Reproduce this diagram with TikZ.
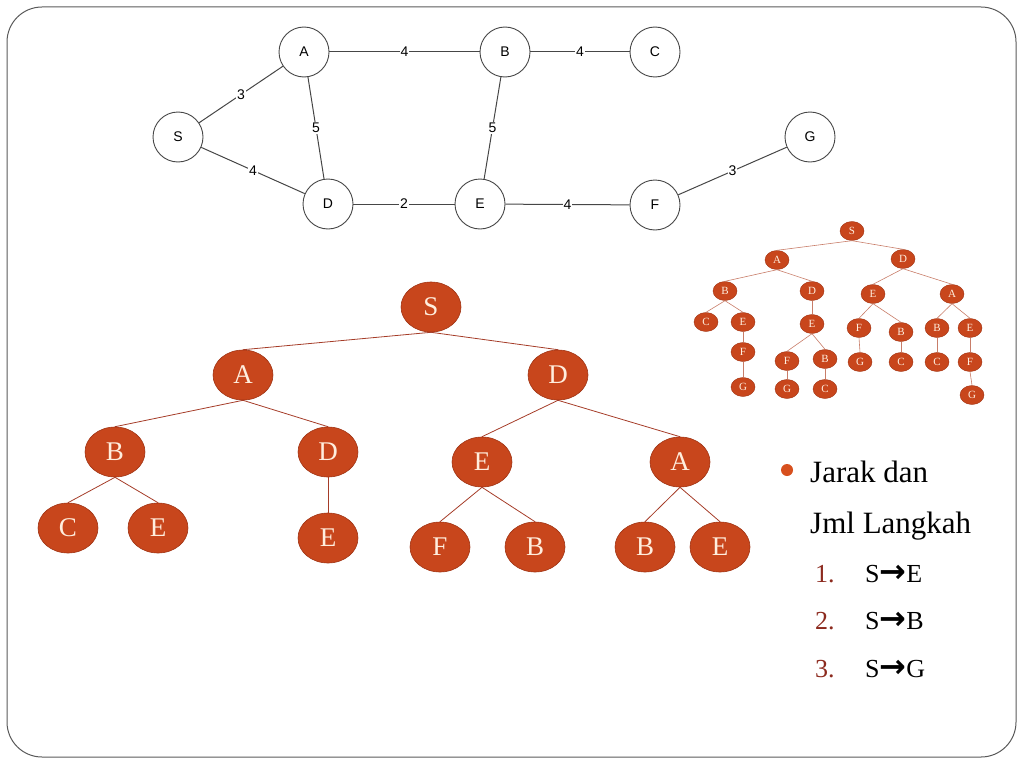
\documentclass[tikz,border=0pt]{standalone}
\usepackage{fontspec}
\setmainfont{Liberation Serif}
\setsansfont{Liberation Sans}
\newfontfamily\arrowfont{DejaVu Sans}
\usetikzlibrary{shapes.geometric}

\definecolor{framegray}{RGB}{90,90,90}
\definecolor{vertexgray}{RGB}{70,70,70}
\definecolor{treefill}{RGB}{200,70,28}
\definecolor{treeborder}{RGB}{160,52,20}
\definecolor{treeline}{RGB}{165,60,40}
\definecolor{smallline}{RGB}{200,125,105}
\definecolor{treetext}{RGB}{255,238,222}
\definecolor{numred}{RGB}{140,42,30}
\definecolor{bulletorange}{RGB}{215,80,30}

\begin{document}
\begin{tikzpicture}[x=1pt,y=-1pt,
	vertex/.style={circle,draw=vertexgray,line width=0.9pt,minimum size=50,inner sep=0,font=\sffamily\fontsize{14}{14}\selectfont},
	weight/.style={fill=white,inner sep=1pt,font=\sffamily\fontsize{14}{14}\selectfont},
	gline/.style={draw=vertexgray,line width=1pt},
	bignode/.style={ellipse,fill=treefill,draw=treeborder,line width=0.6pt,minimum width=60,minimum height=50,inner sep=0,text=treetext,font=\fontsize{27}{27}\selectfont},
	smallnode/.style={ellipse,fill=treefill,draw=treeborder,line width=0.4pt,minimum width=24,minimum height=19,inner sep=0,text=treetext,font=\fontsize{11}{11}\selectfont},
	bigline/.style={draw=treeline,line width=0.8pt},
	smalledge/.style={draw=smallline,line width=0.6pt},
	bullettext/.style={anchor=base west,inner sep=0,font=\fontsize{31}{31}\selectfont},
	steptext/.style={anchor=base west,inner sep=0,font=\fontsize{26}{26}\selectfont}]
		
		\useasboundingbox (0,0) rectangle (1024,768);
		\draw[framegray,line width=1pt,rounded corners=35] (7,7) rectangle (1016,757);
		
		% weighted graph
		\node(1) at (178,137)[vertex]{S};
		\node(2) at (304,52)[vertex]{A};
		\node(3) at (505,52)[vertex]{B};
		\node(4) at (655,52)[vertex]{C};
		\node(5) at (328,204)[vertex]{D};
		\node(6) at (480,204)[vertex]{E};
		\node(7) at (655,205)[vertex]{F};
		\node(8) at (810,137)[vertex]{G};
		\draw[gline] (1) -- node[weight]{3} (2);
		\draw[gline] (1) -- node[weight]{4} (5);
		\draw[gline] (2) -- node[weight]{4} (3);
		\draw[gline] (2) -- node[weight]{5} (5);
		\draw[gline] (3) -- node[weight]{4} (4);
		\draw[gline] (3) -- node[weight]{5} (6);
		\draw[gline] (5) -- node[weight]{2} (6);
		\draw[gline] (6) -- node[weight]{4} (7);
		\draw[gline] (7) -- node[weight]{3} (8);
		
		% big tree
		\node(10) at (431,307)[bignode]{S};
		\node(11) at (243,375)[bignode]{A};
		\node(12) at (558,375)[bignode]{D};
		\node(13) at (115,452)[bignode]{B};
		\node(14) at (328,452)[bignode]{D};
		\node(15) at (482,462)[bignode]{E};
		\node(16) at (680,462)[bignode]{A};
		\node(17) at (68,528)[bignode]{C};
		\node(18) at (158,528)[bignode]{E};
		\node(19) at (328,538)[bignode]{E};
		\node(20) at (440,547)[bignode]{F};
		\node(21) at (535,547)[bignode]{B};
		\node(22) at (645,547)[bignode]{B};
		\node(23) at (720,547)[bignode]{E};
		\draw[bigline] (10.south) -- (11.north);
		\draw[bigline] (10.south) -- (12.north);
		\draw[bigline] (11.south) -- (13.north);
		\draw[bigline] (11.south) -- (14.north);
		\draw[bigline] (12.south) -- (15.north);
		\draw[bigline] (12.south) -- (16.north);
		\draw[bigline] (13.south) -- (17.north);
		\draw[bigline] (13.south) -- (18.north);
		\draw[bigline] (14.south) -- (19.north);
		\draw[bigline] (15.south) -- (20.north);
		\draw[bigline] (15.south) -- (21.north);
		\draw[bigline] (16.south) -- (22.north);
		\draw[bigline] (16.south) -- (23.north);
		
		% small tree
		\node(30) at (852,231)[smallnode]{S};
		\node(31) at (777,260)[smallnode]{A};
		\node(32) at (903,259)[smallnode]{D};
		\node(33) at (725,291)[smallnode]{B};
		\node(34) at (812,291)[smallnode]{D};
		\node(35) at (873,294)[smallnode]{E};
		\node(36) at (952,294)[smallnode]{A};
		\node(37) at (706,322)[smallnode]{C};
		\node(38) at (743,322)[smallnode]{E};
		\node(39) at (812,324)[smallnode]{E};
		\node(40) at (859,328)[smallnode]{F};
		\node(41) at (901,332)[smallnode]{B};
		\node(42) at (937,328)[smallnode]{B};
		\node(43) at (970,328)[smallnode]{E};
		\node(44) at (743,352)[smallnode]{F};
		\node(45) at (787,361)[smallnode]{F};
		\node(46) at (825,359)[smallnode]{B};
		\node(47) at (860,362)[smallnode]{G};
		\node(48) at (901,362)[smallnode]{C};
		\node(49) at (937,362)[smallnode]{C};
		\node(50) at (970,362)[smallnode]{F};
		\node(51) at (743,387)[smallnode]{G};
		\node(52) at (787,389)[smallnode]{G};
		\node(53) at (825,389)[smallnode]{C};
		\node(54) at (972,395)[smallnode]{G};
		\draw[smalledge] (30.south) -- (31.north);
		\draw[smalledge] (30.south) -- (32.north);
		\draw[smalledge] (31.south) -- (33.north);
		\draw[smalledge] (31.south) -- (34.north);
		\draw[smalledge] (32.south) -- (35.north);
		\draw[smalledge] (32.south) -- (36.north);
		\draw[smalledge] (33.south) -- (37.north);
		\draw[smalledge] (33.south) -- (38.north);
		\draw[smalledge] (34.south) -- (39.north);
		\draw[smalledge] (35.south) -- (40.north);
		\draw[smalledge] (35.south) -- (41.north);
		\draw[smalledge] (36.south) -- (42.north);
		\draw[smalledge] (36.south) -- (43.north);
		\draw[smalledge] (38.south) -- (44.north);
		\draw[smalledge] (39.south) -- (45.north);
		\draw[smalledge] (39.south) -- (46.north);
		\draw[smalledge] (40.south) -- (47.north);
		\draw[smalledge] (41.south) -- (48.north);
		\draw[smalledge] (42.south) -- (49.north);
		\draw[smalledge] (43.south) -- (50.north);
		\draw[smalledge] (44.south) -- (51.north);
		\draw[smalledge] (45.south) -- (52.north);
		\draw[smalledge] (46.south) -- (53.north);
		\draw[smalledge] (50.south) -- (54.north);
		
		% text
		\node(60) at (787,470)[circle,fill=bulletorange,minimum size=12,inner sep=0]{};
		\node(61) at (810,482)[bullettext]{Jarak dan};
		\node(62) at (810,533)[bullettext]{Jml Langkah};
		\node(63) at (815,582)[steptext,text=numred]{1.};
		\node(64) at (865,582)[steptext]{S{\arrowfont\bfseries\fontsize{32}{32}\selectfont →}E};
		\node(65) at (815,629)[steptext,text=numred]{2.};
		\node(66) at (865,629)[steptext]{S{\arrowfont\bfseries\fontsize{32}{32}\selectfont →}B};
		\node(67) at (815,677)[steptext,text=numred]{3.};
		\node(68) at (865,677)[steptext]{S{\arrowfont\bfseries\fontsize{32}{32}\selectfont →}G};
		
	\end{tikzpicture}
\end{document}
